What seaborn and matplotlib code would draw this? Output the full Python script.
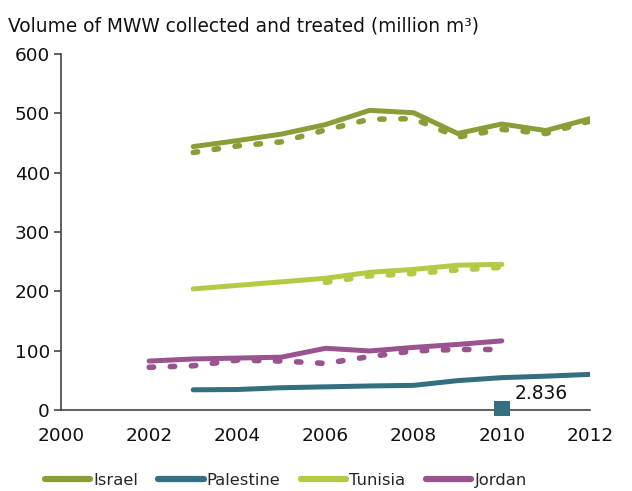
import matplotlib
matplotlib.use("Agg")
import matplotlib.pyplot as plt
import seaborn as sns
import pandas as pd
from matplotlib.lines import Line2D

# Volume of municipal waste water (million m3)
years_isr = [2003, 2004, 2005, 2006, 2007, 2008, 2009, 2010, 2011, 2012]
israel_collected = [444, 454, 465, 481, 505, 501, 466, 482, 471, 491]
israel_treated = [434, 445, 452, 472, 490, 491, 460, 473, 466, 487]

years_pal = [2003, 2004, 2005, 2006, 2007, 2008, 2009, 2010, 2011, 2012]
palestine_collected = [34, 34.5, 37.5, 39, 40.5, 41.5, 49.5, 54.5, 57, 60]

years_tun = [2003, 2004, 2005, 2006, 2007, 2008, 2009, 2010]
tunisia_collected = [204, 210, 216, 222, 232, 237, 244, 245.5]
years_tun_t = [2006, 2007, 2008, 2009, 2010]
tunisia_treated = [215, 226, 230, 236, 240.5]

years_jor = [2002, 2003, 2004, 2005, 2006, 2007, 2008, 2009, 2010]
jordan_collected = [82.5, 86, 87.5, 89, 104, 99.5, 105.5, 110.5, 116.5]
jordan_treated = [72, 74.5, 84, 82.5, 78.5, 90, 99.5, 102, 102]

palestine_treated_year = [2010]
palestine_treated = [2.836]

countries = ["Israel", "Palestine", "Tunisia", "Jordan"]
colors = {"Israel": "#8a9e38", "Palestine": "#336f80",
          "Tunisia": "#b4c944", "Jordan": "#99538f"}

sns.set_theme(style="white")
plt.rcParams["font.family"] = ["DejaVu Sans"]

fig = plt.figure(figsize=(6.32, 4.91), dpi=100)
ax = fig.add_axes([0.0965, 0.165, 0.837, 0.725])

solid = {
    "Israel": (years_isr, israel_collected),
    "Palestine": (years_pal, palestine_collected),
    "Tunisia": (years_tun, tunisia_collected),
    "Jordan": (years_jor, jordan_collected),
}
dotted = {
    "Israel": (years_isr, israel_treated),
    "Tunisia": (years_tun_t, tunisia_treated),
    "Jordan": (years_jor, jordan_treated),
}

dot_style = (0, (0.8, 3.0))
for name, (x, y) in dotted.items():
    df = pd.DataFrame({"year": x, "value": y})
    sns.lineplot(data=df, x="year", y="value", ax=ax, color=colors[name],
                 lw=4.0, linestyle=dot_style, dash_capstyle="round",
                 solid_capstyle="round", zorder=2)

for name, (x, y) in solid.items():
    df = pd.DataFrame({"year": x, "value": y})
    sns.lineplot(data=df, x="year", y="value", ax=ax, color=colors[name],
                 lw=3.6, solid_capstyle="round", zorder=3)

mk = pd.DataFrame({"year": palestine_treated_year, "value": palestine_treated})
sns.scatterplot(data=mk, x="year", y="value", ax=ax, marker="s", s=125,
                color=colors["Palestine"], edgecolor="none", zorder=5,
                clip_on=False)
ax.annotate(f"{palestine_treated[0]:.3f}",
            (palestine_treated_year[0], palestine_treated[0]),
            xytext=(9, 4), textcoords="offset points", fontsize=13.4,
            color="#111111", va="bottom", ha="left")

ax.set_xlim(2000, 2012)
ax.set_ylim(0, 600)
ax.set_xticks(range(2000, 2013, 2))
ax.set_yticks(range(0, 601, 100))
ax.set_xlabel("")
ax.set_ylabel("")
ax.tick_params(axis="y", length=5, width=1.2, color="#444444",
               labelsize=13.3, labelcolor="#111111", pad=3, left=True)
ax.tick_params(axis="x", length=0, labelsize=13.3, labelcolor="#111111", pad=12)
for s in ["top", "right"]:
    ax.spines[s].set_visible(False)
for s in ["left", "bottom"]:
    ax.spines[s].set_color("#444444")
    ax.spines[s].set_linewidth(1.2)

fig.text(0.013, 0.948, "Volume of MWW collected and treated (million m³)",
         fontsize=13.4, color="#111111", ha="left", va="center")

handles = [Line2D([0], [0], color=colors[c], lw=4.5, solid_capstyle="round")
           for c in countries]
fig.legend(handles, countries, loc="center", bbox_to_anchor=(0.452, 0.022),
           ncol=4, frameon=False, fontsize=11.8, handlelength=2.75,
           handletextpad=0.2, columnspacing=1.25, borderaxespad=0.0,
           borderpad=0.0)

fig.savefig("out.png", dpi=100)
